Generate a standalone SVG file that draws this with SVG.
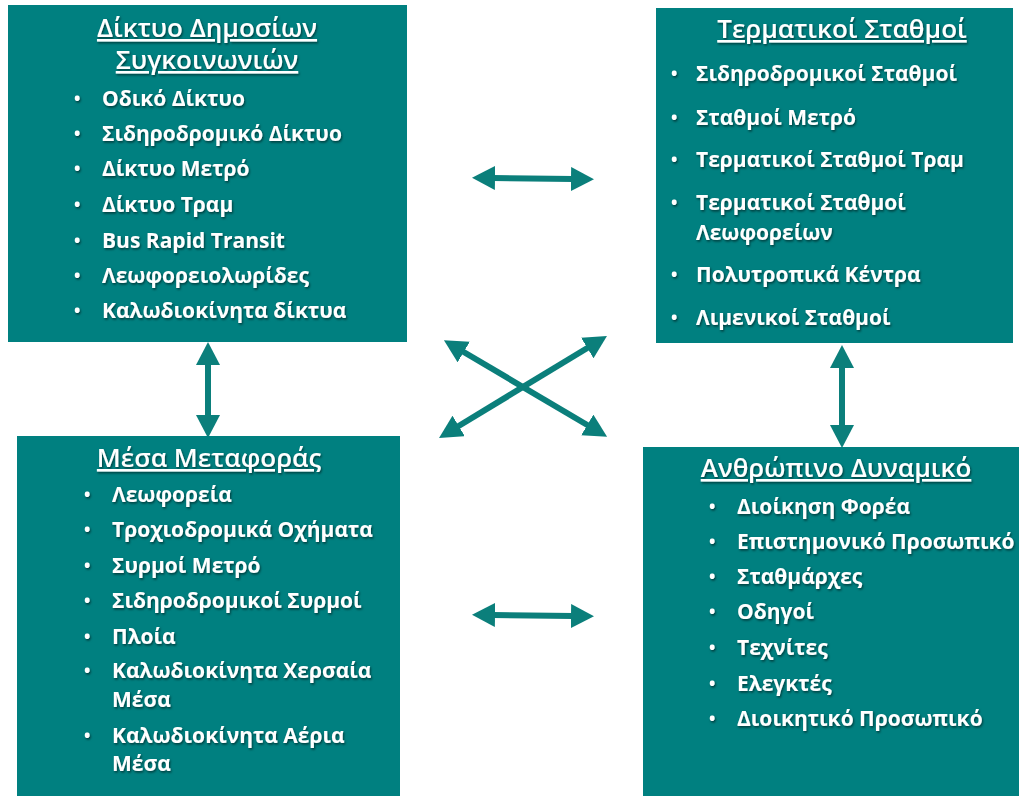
<svg xmlns="http://www.w3.org/2000/svg" width="1019" height="796" viewBox="0 0 1019 796">
<style>
.box{fill:#008080;}
.t{font-family:"Open Sans","Noto Sans","Liberation Sans",sans-serif;fill:#fff;filter:url(#sh);}
.title{font-size:26px;font-weight:600;text-decoration:underline;text-anchor:middle;}
.item{font-size:21px;font-weight:bold;}
.b{font-size:17px;}
.conn{stroke:#0b7f7b;stroke-width:6;fill:none;marker-start:url(#ah);marker-end:url(#ah);}
</style>
<defs>
<filter id="sh" x="-10%" y="-30%" width="120%" height="160%">
<feDropShadow dx="1" dy="1.5" stdDeviation="0.8" flood-color="#000" flood-opacity="0.55"/>
</filter>
<marker id="ah" markerUnits="userSpaceOnUse" markerWidth="24" markerHeight="24" refX="2" refY="12" orient="auto-start-reverse">
<path d="M0,0 L23,12 L0,24 Z" fill="#0b7f7b"/>
</marker>
</defs>
<g id="connectors">
<line class="conn" x1="493" y1="178" x2="573" y2="179"/>
<line class="conn" x1="493" y1="615" x2="573" y2="616"/>
<line class="conn" x1="462" y1="351" x2="589" y2="426"/>
<line class="conn" x1="457" y1="427" x2="589" y2="347"/>
<line class="conn" x1="208" y1="363" x2="208" y2="417"/>
<line class="conn" x1="842" y1="366" x2="842" y2="427"/>
</g>
<g id="node-diktyo">
<rect class="box" x="8" y="5" width="399" height="337"/>
<text class="t title" x="207" y="37">Δίκτυο Δημοσίων<tspan x="207" dy="32">Συγκοινωνιών</tspan></text>
<g class="t item">
<text class="b" x="74" y="105">•</text><text x="102" y="106">Οδικό Δίκτυο</text>
<text class="b" x="74" y="140">•</text><text x="102" y="141">Σιδηροδρομικό Δίκτυο</text>
<text class="b" x="74" y="175">•</text><text x="102" y="176">Δίκτυο Μετρό</text>
<text class="b" x="74" y="211">•</text><text x="102" y="212">Δίκτυο Τραμ</text>
<text class="b" x="74" y="247">•</text><text x="102" y="248">Bus Rapid Transit</text>
<text class="b" x="74" y="282">•</text><text x="102" y="283">Λεωφορειολωρίδες</text>
<text class="b" x="74" y="317">•</text><text x="102" y="318">Καλωδιοκίνητα δίκτυα</text>
</g>
</g>
<g id="node-termatikoi">
<rect class="box" x="656" y="8" width="357" height="335"/>
<text class="t title" x="842" y="38">Τερματικοί Σταθμοί</text>
<g class="t item">
<text class="b" x="671" y="80">•</text><text x="696" y="81">Σιδηροδρομικοί Σταθμοί</text>
<text class="b" x="671" y="124">•</text><text x="696" y="125">Σταθμοί Μετρό</text>
<text class="b" x="671" y="166">•</text><text x="696" y="167">Τερματικοί Σταθμοί Τραμ</text>
<text class="b" x="671" y="209">•</text><text x="696" y="210">Τερματικοί Σταθμοί<tspan x="696" dy="30">Λεωφορείων</tspan></text>
<text class="b" x="671" y="281">•</text><text x="696" y="282">Πολυτροπικά Κέντρα</text>
<text class="b" x="671" y="324">•</text><text x="696" y="325">Λιμενικοί Σταθμοί</text>
</g>
</g>
<g id="node-mesa">
<rect class="box" x="17" y="436" width="383" height="360"/>
<text class="t title" x="209" y="467">Μέσα Μεταφοράς</text>
<g class="t item">
<text class="b" x="84" y="501">•</text><text x="112" y="502">Λεωφορεία</text>
<text class="b" x="84" y="536">•</text><text x="112" y="537">Τροχιοδρομικά Οχήματα</text>
<text class="b" x="84" y="572">•</text><text x="112" y="573">Συρμοί Μετρό</text>
<text class="b" x="84" y="607">•</text><text x="112" y="608">Σιδηροδρομικοί Συρμοί</text>
<text class="b" x="84" y="643">•</text><text x="112" y="644">Πλοία</text>
<text class="b" x="84" y="677">•</text><text x="112" y="678">Καλωδιοκίνητα Χερσαία<tspan x="112" dy="29">Μέσα</tspan></text>
<text class="b" x="84" y="742">•</text><text x="112" y="743">Καλωδιοκίνητα Αέρια<tspan x="112" dy="28">Μέσα</tspan></text>
</g>
</g>
<g id="node-anthropino">
<rect class="box" x="643" y="447" width="376" height="349"/>
<text class="t title" x="836" y="477">Ανθρώπινο Δυναμικό</text>
<g class="t item">
<text class="b" x="709" y="513">•</text><text x="737" y="514">Διοίκηση Φορέα</text>
<text class="b" x="709" y="548">•</text><text x="737" y="549">Επιστημονικό Προσωπικό</text>
<text class="b" x="709" y="583">•</text><text x="737" y="584">Σταθμάρχες</text>
<text class="b" x="709" y="618">•</text><text x="737" y="619">Οδηγοί</text>
<text class="b" x="709" y="654">•</text><text x="737" y="655">Τεχνίτες</text>
<text class="b" x="709" y="690">•</text><text x="737" y="691">Ελεγκτές</text>
<text class="b" x="709" y="725">•</text><text x="737" y="726">Διοικητικό Προσωπικό</text>
</g>
</g>
</svg>
